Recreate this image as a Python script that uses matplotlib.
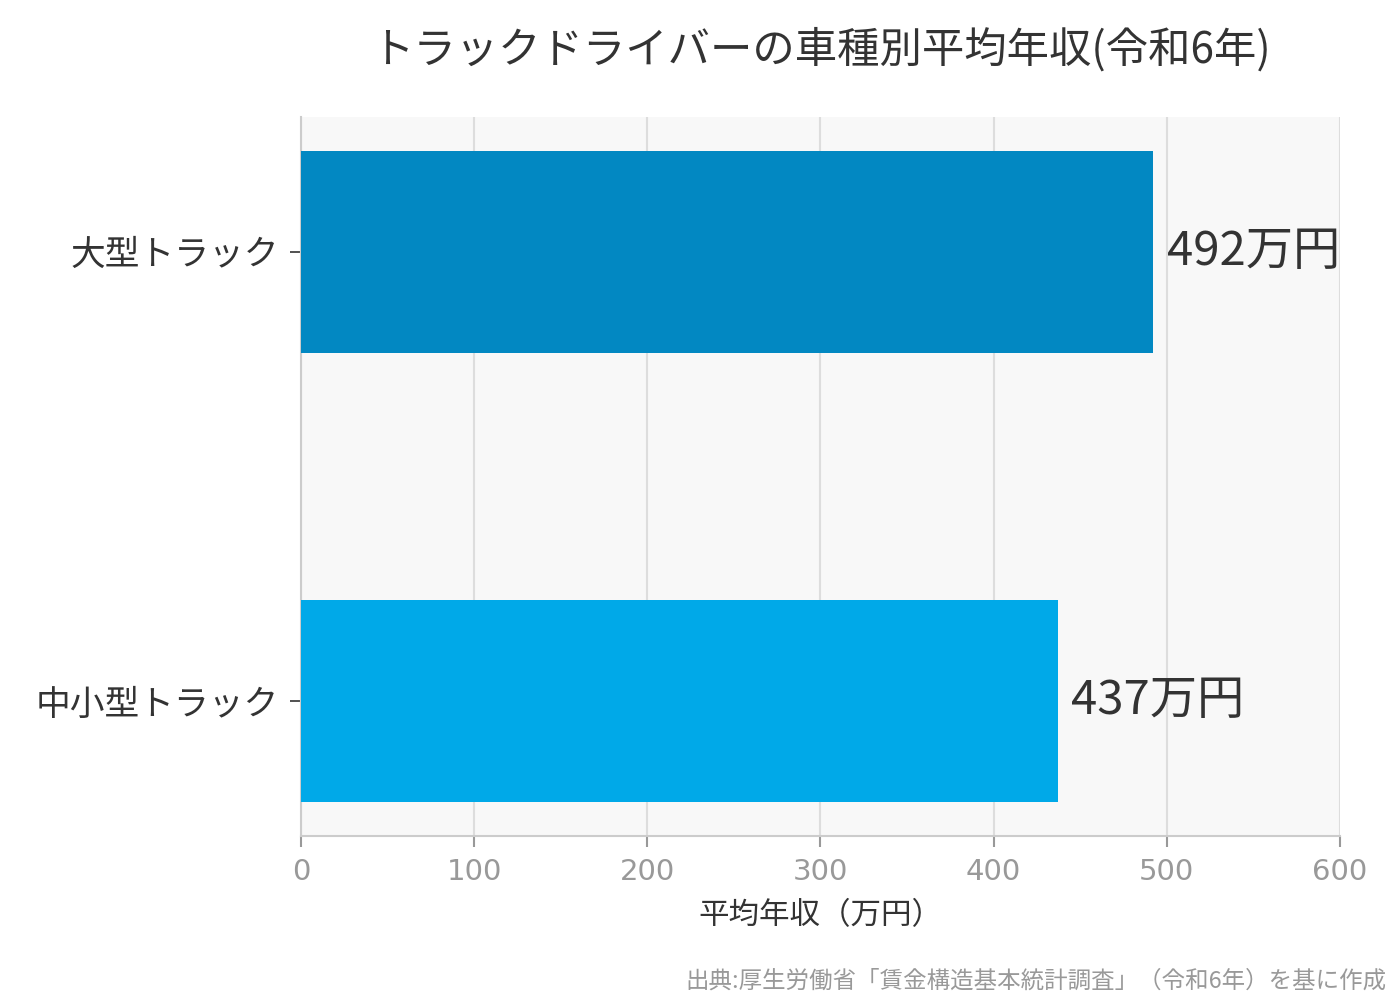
import matplotlib
matplotlib.use('Agg')
from matplotlib import pyplot as plt

plt.rcParams['font.family'] = ['Noto Sans CJK JP', 'DejaVu Sans']

categories = ['中小型トラック', '大型トラック']
incomes = [437, 492]
bar_colors = ['#00A9E8', '#0288C2']
value_labels = ['437万円', '492万円']
x_ticks = [0, 100, 200, 300, 400, 500, 600]

fig = plt.figure(figsize=(14, 10), dpi=100)
ax = fig.add_axes([0.215, 0.164, 0.742, 0.719])
ax.set_facecolor('#F8F8F8')

pos = list(range(len(categories)))
ax.barh(pos, incomes, height=0.45, color=bar_colors, zorder=3)

for p, v, lab in zip(pos, incomes, value_labels):
    ax.text(v + 8, p, lab, va='center', ha='left', fontsize=34, color='#333333', zorder=4)

ax.set_xlim(0, 600)
ax.set_ylim(-0.3, 1.3)
ax.set_xticks(x_ticks)
ax.set_xticklabels([str(t) for t in x_ticks], fontfamily='DejaVu Sans',
                   fontsize=21, color='#999999')
ax.set_yticks(pos)
ax.set_yticklabels(categories, fontsize=25, color='#333333')
ax.tick_params(axis='x', color='#999999', length=8, width=1.5, pad=8)
ax.tick_params(axis='y', color='#333333', length=8, width=1.2, pad=8)

ax.grid(axis='x', color='#DDDDDD', linewidth=1.5, zorder=0)
ax.set_axisbelow(True)
for side in ['top', 'right']:
    ax.spines[side].set_visible(False)
for side in ['left', 'bottom']:
    ax.spines[side].set_color('#CCCCCC')
    ax.spines[side].set_linewidth(1.5)

ax.set_xlabel('平均年収（万円）', fontsize=22, color='#333333', labelpad=10)

fig.text(0.586, 0.95, 'トラックドライバーの車種別平均年収(令和6年)', ha='center', va='center',
         fontsize=30.5, color='#333333')
fig.text(0.99, 0.019, '出典:厚生労働省「賃金構造基本統計調査」（令和6年）を基に作成',
         ha='right', va='center', fontsize=16.9, color='#999999')

fig.savefig('out.png', dpi=100)
